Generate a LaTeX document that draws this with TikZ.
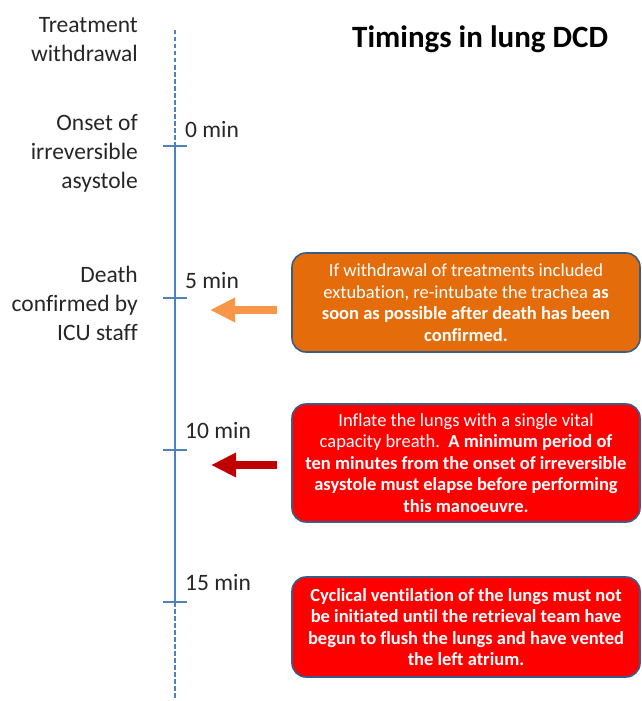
\documentclass[tikz,border=0pt]{standalone}
\usepackage{fontspec}
\setmainfont{Carlito}[Ligatures=NoCommon]
\usetikzlibrary{arrows.meta}
\definecolor{tlblue}{HTML}{4F81BD}
\definecolor{boxorange}{HTML}{E46C0A}
\definecolor{boxred}{HTML}{FF0000}
\definecolor{boxline}{HTML}{385D8A}
\definecolor{arrorange}{HTML}{F79646}
\definecolor{arrred}{HTML}{C00000}
\definecolor{labtext}{HTML}{262626}
\begin{document}
\begin{tikzpicture}[x=1pt,y=-1pt,
  lab/.style={anchor=north east, align=right, inner sep=0pt, text=labtext,
    font=\fontsize{23.5}{29}\selectfont},
  timelab/.style={anchor=base west, inner sep=0pt, text=labtext,
    font=\fontsize{23.5}{28}\selectfont},
  tl/.style={draw=tlblue, line width=2.2pt},
  tldash/.style={tl, dash pattern=on 4.5pt off 2.5pt},
  tick/.style={draw=tlblue, line width=2pt},
  infobox/.style={draw=boxline, line width=1.6pt, rounded corners=14pt,
    minimum width=348pt, align=center, text=white, inner sep=3pt,
    font=\fontsize{18.5}{21.5}\selectfont},
  bigarrow/.style={line width=7.5pt, -{Triangle[length=25pt,width=23pt]}}
]
\useasboundingbox (0,0) rectangle (642,701);

% timeline coordinates
\coordinate (ttop) at (175,30);
\coordinate (t0) at (175,146);
\coordinate (t5) at (175,298);
\coordinate (t10) at (175,450);
\coordinate (t15) at (175,602);
\coordinate (tbot) at (175,700);

\draw[tldash] (ttop) -- (t0);
\draw[tl] (t0) -- (t15);
\draw[tldash] (t15) -- (tbot);
\foreach \t in {t0,t5,t10,t15}
  \draw[tick] ([xshift=-12pt]\t) -- ([xshift=12pt]\t);

% time labels
\node[timelab] (m0) at (185,137) {0 min};
\node[timelab] (m5) at (185,288) {5 min};
\node[timelab] (m10) at (185,438) {10 min};
\node[timelab] (m15) at (185,590) {15 min};

% left labels
\node[lab] (l1) at (138,17) {Treatment\\withdrawal};
\node[lab] (l2) at (138,114) {Onset of\\irreversible\\asystole};
\node[lab] (l3) at (138,266) {Death\\confirmed by\\ICU staff};

% title
\node[anchor=base west, inner sep=0pt, font=\fontsize{31}{34}\selectfont\bfseries]
  (title) at (352,48) {Timings in lung DCD};

% boxes
\node[infobox, fill=boxorange, minimum height=99pt] (b1) at (466,302.5)
  {If withdrawal of treatments included\\
   extubation, re-intubate the trachea \textbf{as}\\
   \textbf{soon as possible after death has been}\\
   \textbf{confirmed.}};
\node[infobox, fill=boxred, minimum height=118pt] (b2) at (466,463)
  {Inflate the lungs with a single vital\\
   capacity breath.\ \ \textbf{A minimum period of}\\
   \textbf{ten minutes from the onset of irreversible}\\
   \textbf{asystole must elapse before performing}\\
   \textbf{this manoeuvre.}};
\node[infobox, fill=boxred, minimum height=100pt] (b3) at (466,627)
  {\textbf{Cyclical ventilation of the lungs must not}\\
   \textbf{be initiated until the retrieval team have}\\
   \textbf{begun to flush the lungs and have vented}\\
   \textbf{the left atrium.}};

% arrows
\coordinate (a1s) at (277,310);
\coordinate (a1e) at (210,310);
\coordinate (a2s) at (277,465);
\coordinate (a2e) at (211,465);
\draw[bigarrow, draw=arrorange, fill=arrorange] (a1s) -- (a1e);
\draw[bigarrow, draw=arrred, fill=arrred] (a2s) -- (a2e);
\end{tikzpicture}
\end{document}
